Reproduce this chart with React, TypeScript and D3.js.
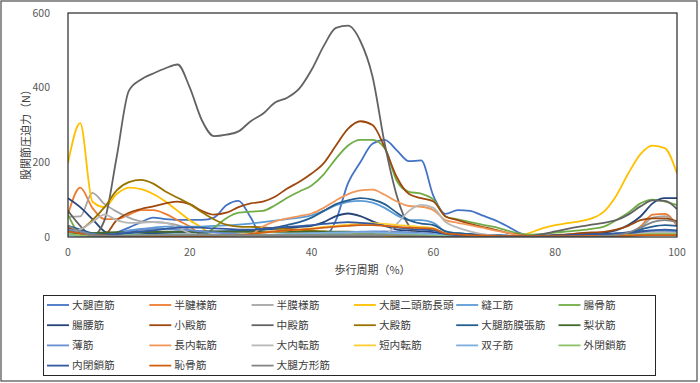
import React from "react";
import * as d3 from "d3";

const pct = [0,2,4,6,8,10,12,14,16,18,20,22,24,26,28,30,32,34,36,38,40,42,44,46,48,50,52,54,56,58,60,62,64,66,68,70,72,74,76,78,80,82,84,86,88,90,92,94,96,98,100];

const names = ["大腿直筋","半腱様筋","半膜様筋","大腿二頭筋長頭","縫工筋","腸骨筋","腸腰筋","小殿筋","中殿筋","大殿筋","大腿筋膜張筋","梨状筋","薄筋","長内転筋","大内転筋","短内転筋","双子筋","外閉鎖筋","内閉鎖筋","恥骨筋","大腿方形筋"];
const colors = ["#4472C4","#ED7D31","#A5A5A5","#FFC000","#5B9BD5","#70AD47","#264478","#9E480E","#636363","#997300","#255E91","#43682B","#698ED0","#F1975A","#B7B7B7","#FFCD33","#7CAFDD","#8CC168","#335AA1","#D26012","#848484"];

const s01 = [10,5,2,3,12,25,40,52,48,46,46, 46,52,85,97,52,0,0,0,0,0,0, 45,145,200,250,260,232,203,205,110,62,72, 70,58,46,30,12,2,2,2,3,3,4, 5,6,12,15,12,8,10];
const s02 = [60,132,78,48,48,60,72,72,62,45,28, 5,0,0,0,0,0,0,0,0,0,0, 0,0,0,0,0,0,0,0,0,0,0, 0,0,0,0,0,0,0,0,0,0,0, 2,4,8,28,60,62,30];
const s03 = [54,55,118,88,68,52,42,40,38,32,20, 10,5,2,0,0,0,0,0,0,0,0, 0,0,0,0,0,0,0,0,0,0,0, 0,0,0,0,0,0,0,0,0,0,0, 2,5,10,25,52,56,35];
const s04 = [198,305,95,80,115,132,128,115,95,70,45, 25,0,0,0,0,0,0,0,0,0,0, 0,0,0,0,0,0,0,0,0,0,0, 0,0,0,0,2,12,24,32,37,42,50, 68,110,170,222,245,238,170];
const s05 = [15,10,5,5,10,18,22,25,28,28,28, 28,30,31,33,36,40,44,48,52,58,70, 85,94,97,92,78,58,45,45,38,15,10, 8,6,5,3,2,2,2,3,3,4,4, 5,8,12,15,18,18,15];
const s06 = [60,8,0,0,0,0,0,0,0,0,0, 3,25,50,65,68,70,85,105,122,138,168, 210,245,260,260,238,150,121,116,100,55,47, 40,33,27,18,10,6,8,12,15,18,22, 28,45,65,90,100,95,86];
const s07 = [104,80,48,15,5,5,7,10,12,14,15, 15,15,15,16,18,20,22,24,27,30,40, 56,63,56,42,30,20,17,15,13,6,4, 3,3,3,3,3,3,4,5,6,8,10, 12,18,32,55,90,104,104];
const s08 = [25,10,0,5,45,65,75,82,90,95,88, 70,60,65,80,90,95,108,130,148,170,198, 245,290,310,300,240,160,115,104,95,55,45, 35,27,20,12,6,2,2,5,7,10,12, 14,20,30,45,50,50,42];
const s09 = [70,30,3,45,215,392,422,438,452,462,400, 312,270,274,283,310,330,360,373,398,448,512, 560,566,525,430,250,110,30,8,5,3,2, 2,1,0,0,0,3,8,15,22,28,33, 38,45,60,82,98,97,75];
const s10 = [15,20,45,80,125,147,153,143,122,105,88, 66,47,33,28,27,26,23,21,19,17,15, 13,12,10,8,6,4,3,2,0,0,0, 0,0,0,0,0,0,0,0,0,0,0, 0,2,4,7,10,13,15];
const s11 = [30,20,10,8,8,10,12,12,12,12,12, 12,13,15,16,18,20,25,32,40,52,70, 88,98,104,100,88,65,45,36,32,15,10, 8,6,5,4,2,2,2,3,3,4,5, 6,8,12,20,28,32,30];
const s12 = [10,8,10,12,13,13,14,14,14,14,14, 14,14,14,14,14,14,14,14,14,14,14, 14,14,13,12,11,10,8,6,4,2,1, 1,1,1,1,1,1,1,1,1,1,1, 2,3,8,12,14,14,12];
const s13 = [20,15,8,5,8,15,20,22,22,20,18, 15,12,10,8,6,5,5,5,5,6,8, 10,12,14,15,15,14,12,10,8,4,3, 2,2,2,2,2,2,2,2,2,2,2, 3,4,6,10,14,15,14];
const s14 = [5,5,3,2,2,2,2,2,1,0,0, 0,0,0,0,6,28,42,50,56,63,78, 98,115,125,127,113,95,83,81,72,45,38, 32,25,18,12,5,2,1,1,1,1,1, 1,2,3,5,8,8,6];
const s15 = [10,20,40,60,45,38,38,40,38,25,10, 3,0,0,0,0,0,0,0,0,0,0, 0,0,0,0,5,35,70,86,78,40,25, 15,8,4,2,1,1,1,1,1,1,1, 1,2,4,8,12,12,10];
const s16 = [5,4,3,2,2,2,2,2,2,2,2, 2,3,4,6,8,12,15,18,20,23,27, 30,33,35,37,35,32,30,27,24,8,4, 3,2,2,2,2,2,2,2,2,2,2, 3,4,5,6,7,7,6];
const s17 = [5,3,2,2,3,4,5,5,5,5,5, 5,5,5,5,6,6,7,8,9,10,11, 12,12,12,12,11,10,9,8,7,3,2, 1,1,1,1,1,1,1,1,1,1,1, 2,2,3,4,5,5,5];
const s18 = [8,5,3,3,4,5,5,5,5,5,5, 5,5,5,5,5,5,5,5,5,5,6, 6,6,6,6,6,5,5,4,3,2,1, 1,1,1,1,1,1,1,1,1,1,1, 2,3,4,6,8,8,8];
const s19 = [15,10,6,5,8,12,15,18,22,25,26, 25,23,22,20,20,22,25,27,29,32,35, 38,40,38,35,30,26,22,20,18,8,5, 4,3,3,3,3,3,3,4,5,6,7, 8,10,12,15,18,20,18];
const s20 = [15,10,5,4,3,3,3,3,3,3,3, 3,3,4,5,8,12,15,18,20,22,25, 28,30,32,32,30,27,25,24,22,10,7, 5,4,3,2,2,2,2,2,2,2,2, 2,3,4,5,5,5,5];
const s21 = [30,15,5,3,3,3,4,5,5,5,5, 5,5,5,5,5,5,5,5,5,5,5, 5,5,5,5,5,4,3,2,1,0,0, 0,0,0,0,0,0,0,0,0,0,0, 2,5,12,25,40,45,40];

const seriesValues = [s01,s02,s03,s04,s05,s06,s07,s08,s09,s10,s11,s12,s13,s14,s15,s16,s17,s18,s19,s20,s21];
const yTicks = [0,200,400,600];
const xTicks = [0,20,40,60,80,100];
const yTitle = "股関節圧迫力（N）";
const xTitle = "歩行周期（%）";

const FONT = "'Noto Sans CJK JP', 'Noto Sans', sans-serif";

export default function App() {
  const left = 68, right = 677, top = 13, bottom = 237;
  const x = d3.scaleLinear().domain([0, 100]).range([left, right]);
  const y = d3.scaleLinear().domain([0, 600]).range([bottom, top]);
  const line = d3.line<number>()
    .x((_, i) => x(pct[i]))
    .y((d) => y(d))
    .curve(d3.curveMonotoneX);

  const legX0 = 47, legDX = 102.3, legY0 = 305, legDY = 20.2, legLen = 22;

  return (
    <svg width={700} height={383} style={{ position: "absolute", left: 0, top: 0, background: "#fff" }} fontFamily={FONT}>
      <defs>
        <clipPath id="plotclip">
          <rect x={left} y={top - 2} width={right - left} height={bottom - top + 2} />
        </clipPath>
      </defs>
      <rect x={1} y={1} width={696} height={380} fill="#fff" stroke="#595959" strokeWidth={1.3} />
      <g clipPath="url(#plotclip)">
        {seriesValues.map((vals, k) => (
          <path key={k} d={line(vals) || ""} fill="none" stroke={colors[k]} strokeWidth={1.8} strokeLinejoin="round" />
        ))}
      </g>
      <rect x={left} y={top} width={right - left} height={bottom - top} fill="none" stroke="#262626" strokeWidth={1.2} />
      {yTicks.map((t) => (
        <text key={t} x={50} y={y(t)} dy="0.35em" textAnchor="end" fontSize={10.5} fill="#595959">{t}</text>
      ))}
      {xTicks.map((t) => (
        <text key={t} x={x(t)} y={256} textAnchor="middle" fontSize={10.5} fill="#595959">{t}</text>
      ))}
      <text transform={`translate(26,132) rotate(-90)`} textAnchor="middle" dy="0.35em" fontSize={11} fill="#404040">{yTitle}</text>
      <text x={(left + right) / 2} y={274} textAnchor="middle" fontSize={11} fill="#404040">{xTitle}</text>
      <rect x={43.5} y={295.5} width={612} height={80} fill="#fff" stroke="#262626" strokeWidth={1} />
      {names.map((n, k) => {
        const col = k % 6, row = Math.floor(k / 6);
        const lx = legX0 + col * legDX, ly = legY0 + row * legDY;
        return (
          <g key={n}>
            <line x1={lx} x2={lx + legLen} y1={ly} y2={ly} stroke={colors[k]} strokeWidth={1.8} />
            <text x={lx + legLen + 3} y={ly} dy="0.35em" fontSize={10.7} fill="#404040">{n}</text>
          </g>
        );
      })}
    </svg>
  );
}
